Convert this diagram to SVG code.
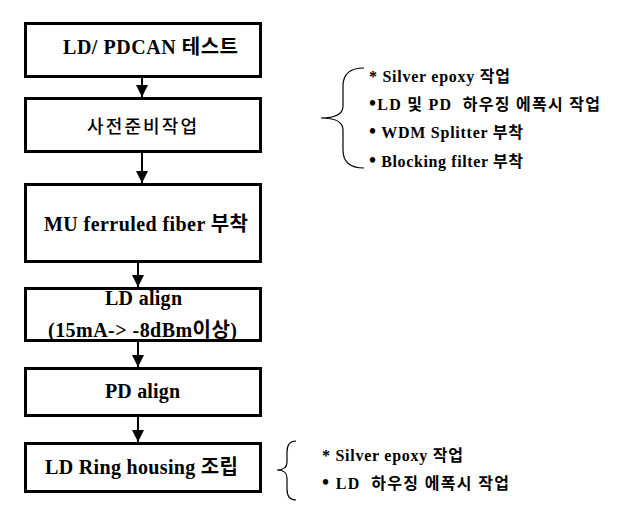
<svg xmlns="http://www.w3.org/2000/svg" width="624" height="519" viewBox="0 0 624 519">
<defs>
<style>
.box{fill:#fff;stroke:#000;stroke-width:3}
.t{font-family:"Liberation Serif","Noto Sans CJK KR",serif;font-weight:bold;font-size:20px;fill:#000;text-anchor:middle}
.a{font-family:"Liberation Serif","Noto Sans CJK KR",serif;font-weight:bold;font-size:16px;fill:#000}
.b{font-size:20px}
.c{stroke:#000;stroke-width:2;fill:none}
.br{stroke:#000;stroke-width:1.2;fill:none}
</style>
<marker id="ah" markerUnits="userSpaceOnUse" markerWidth="12" markerHeight="12" viewBox="0 0 12 12" refX="12" refY="6" orient="auto">
<path d="M0,0 L12,6 L0,12 Z" fill="#000"/>
</marker>
</defs>
<rect width="624" height="519" fill="#fff"/>
<g id="connectors">
<line class="c" x1="142" y1="78" x2="142" y2="97" marker-end="url(#ah)"/>
<line class="c" x1="142" y1="153" x2="142" y2="183" marker-end="url(#ah)"/>
<line class="c" x1="138" y1="263" x2="138" y2="287" marker-end="url(#ah)"/>
<line class="c" x1="138" y1="342" x2="138" y2="367" marker-end="url(#ah)"/>
<line class="c" x1="138" y1="417" x2="138" y2="442" marker-end="url(#ah)"/>
</g>
<g id="n1"><rect class="box" x="25.5" y="23.5" width="235" height="53"/><text class="t" x="150.5" y="54" textLength="175">LD/ PDCAN 테스트</text></g>
<g id="n2"><rect class="box" x="25.5" y="98.5" width="235" height="53"/><text class="t" x="142" y="133" textLength="110" style="font-weight:500;font-size:18px;font-family:'Noto Sans CJK KR',sans-serif">사전준비작업</text></g>
<g id="n3"><rect class="box" x="25.5" y="184.5" width="235" height="77"/><text class="t" x="146" y="231" textLength="204">MU ferruled fiber 부착</text></g>
<g id="n4"><rect class="box" x="25.5" y="288.5" width="235" height="52"/><text class="t" x="143.5" y="305" textLength="77">LD align</text><text class="t" x="142.5" y="337" textLength="189">(15mA-&gt; -8dBm이상)</text></g>
<g id="n5"><rect class="box" x="25.5" y="368.5" width="235" height="47"/><text class="t" x="142.5" y="398" textLength="75">PD align</text></g>
<g id="n6"><rect class="box" x="25.5" y="443.5" width="235" height="48"/><text class="t" x="141.5" y="474" textLength="193">LD Ring housing 조립</text></g>
<g id="note1">
<path class="br" d="M364,68 Q343,68 343,86 L343,106 Q343,118 321,118 Q343,118 343,130 L343,150 Q343,168 364,168"/>
<text class="a" x="369" y="82" textLength="141">* Silver epoxy 작업</text>
<text class="a" x="369" y="110" textLength="231" xml:space="preserve"><tspan class="b">•</tspan>LD 및 PD  하우징 에폭시 작업</text>
<text class="a" x="369" y="138" textLength="154"><tspan class="b">•</tspan> WDM Splitter 부착</text>
<text class="a" x="369" y="167" textLength="154"><tspan class="b">•</tspan> Blocking filter 부착</text>
</g>
<g id="note2">
<path class="br" d="M296,441 Q287,441 287,452 L287,462 Q287,470 277,470 Q287,470 287,478 L287,489 Q287,500 296,500"/>
<text class="a" x="322" y="461" textLength="141">* Silver epoxy 작업</text>
<text class="a" x="322" y="489" textLength="187" xml:space="preserve"><tspan class="b">•</tspan> LD  하우징 에폭시 작업</text>
</g>
</svg>
